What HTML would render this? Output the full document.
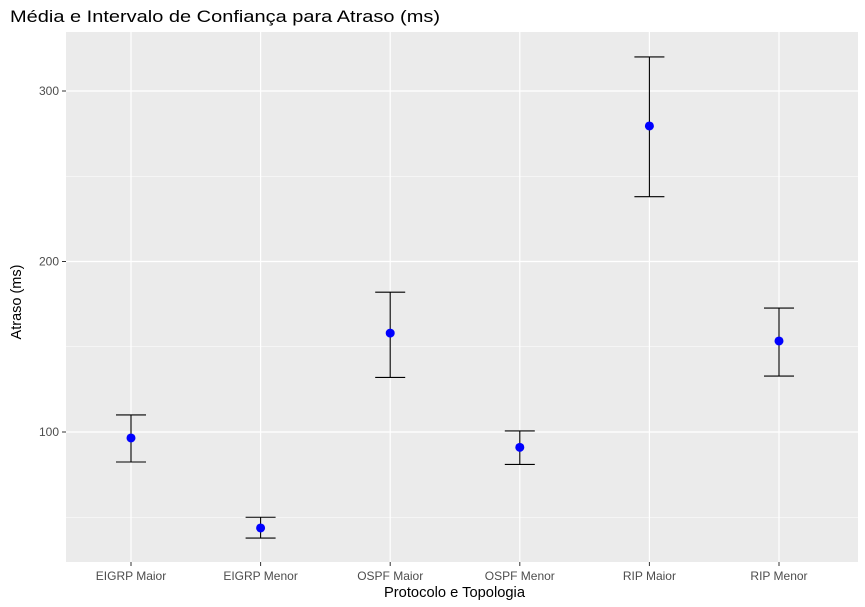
<!DOCTYPE html>
<html><head><meta charset="utf-8"><style>
body{margin:0;background:#fff;}
svg{display:block;font-family:"Liberation Sans",Arial,sans-serif;}
</style></head><body>
<svg id="chart" width="865" height="607">
<text x="10" y="22" font-size="17" textLength="430" lengthAdjust="spacingAndGlyphs" fill="#000">Média e Intervalo de Confiança para Atraso (ms)</text>
<rect x="66" y="32" width="792" height="530" fill="#ebebeb"/>
<g id="grid"></g><g id="marks"></g><g id="axes"></g>
<text x="384" y="597" font-size="14.5" textLength="141" lengthAdjust="spacingAndGlyphs" fill="#000">Protocolo e Topologia</text>
<text transform="translate(21,302) rotate(-90)" font-size="14.5" text-anchor="middle" fill="#000">Atraso (ms)</text>
</svg>
<script>
const categories=["EIGRP Maior","EIGRP Menor","OSPF Maior","OSPF Menor","RIP Maior","RIP Menor"];
const means=[96.5,43.7,158,91,279.5,153.4];
const upper=[110,50,182,100.6,320,172.7];
const lower=[82.4,37.8,132,81,238,132.8];
const yTicks=[100,200,300];
const yMinor=[50,150,250];
const NS="http://www.w3.org/2000/svg";
function y(v){return 432-(v-100)*1.705;}
function x(i){return 131+129.6*i;}
function mk(t,a,p){const e=document.createElementNS(NS,t);for(const k in a)e.setAttribute(k,a[k]);p.appendChild(e);return e;}
const g=document.getElementById('grid'),m=document.getElementById('marks'),ax=document.getElementById('axes');
yMinor.forEach(v=>{const l=mk('line',{x1:66,x2:858,y1:y(v),y2:y(v),stroke:'#fff','stroke-width':0.6},g);

});
yTicks.forEach(v=>{const l=mk('line',{x1:66,x2:858,y1:y(v),y2:y(v),stroke:'#fff','stroke-width':1.2},g);


mk('line',{x1:62,x2:66,y1:y(v),y2:y(v),stroke:'#333'},ax);
const t=mk('text',{x:59,y:y(v)+4,'font-size':12,'text-anchor':'end',fill:'#4d4d4d'},ax);t.textContent=v;

});
categories.forEach((c,i)=>{const X=x(i);
const l=mk('line',{x1:X,x2:X,y1:32,y2:562,stroke:'#fff','stroke-width':1.2},g);


mk('line',{x1:X,x2:X,y1:562,y2:566,stroke:'#333'},ax);
const t=mk('text',{x:X,y:580,'font-size':12,'text-anchor':'middle',fill:'#4d4d4d'},ax);t.textContent=c;


const eb=mk('path',{d:`M${X-15},${y(upper[i])}H${X+15}M${X},${y(upper[i])}V${y(lower[i])}M${X-15},${y(lower[i])}H${X+15}`,stroke:'#000','stroke-width':1.1,fill:'none'},m);


const p=mk('circle',{cx:X,cy:y(means[i]),r:4.5,fill:'#0000ff'},m);

});
</script>
</body></html>
